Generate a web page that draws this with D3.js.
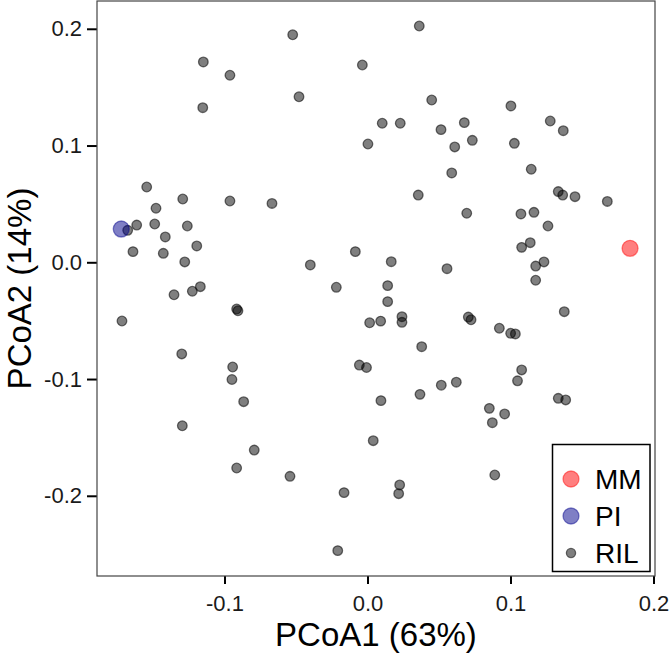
<!DOCTYPE html>
<html>
<head>
<meta charset="utf-8">
<script src="https://cdn.jsdelivr.net/npm/d3@7/dist/d3.min.js"></script>
<style>
  html, body { margin: 0; padding: 0; background: #fff; }
  svg { display: block; font-family: "Liberation Sans", Arial, Helvetica, sans-serif; }
</style>
</head>
<body>
<script>
// ---- data ----
const rilX = [
  -0.0523, -0.1148, -0.0962, -0.0036, -0.0479, -0.1152, 0.0103, 0.0003, -0.1544, -0.1292,
  -0.0962, -0.0668, 0.0362, 0.0449, 0.1003, 0.0229, 0.0677, 0.0514, 0.1278, 0.1369,
  0.0610, 0.0733, 0.1027, 0.0589, 0.1145, 0.0355, 0.1334, 0.1365, 0.1451, 0.1677,
  -0.1479, -0.1677, -0.1614, -0.1488, -0.1260, -0.1414, -0.1194, -0.1640, -0.1428, -0.1278,
  -0.0085, -0.0400, -0.1169, -0.1225, -0.1353, -0.0218, -0.0915, -0.0906, -0.1717, 0.0015,
  0.0092, -0.1299, -0.0943, -0.0948, -0.0057, -0.0007, 0.0694, 0.1073, 0.1164, 0.1262,
  0.1078, 0.1138, 0.0166, 0.0556, 0.1176, 0.1234, 0.1176, 0.0141, 0.0141, 0.1376,
  0.0241, 0.0241, 0.0705, 0.0724, 0.0922, 0.1001, 0.1034, 0.0379, 0.1078, 0.1049,
  0.0516, 0.0621, 0.0367, -0.0866, -0.1295, -0.0792, -0.0915, -0.0542, -0.0164, -0.0208,
  0.0040, 0.0094, 0.1334, 0.1386, 0.0852, 0.0959, 0.0873, 0.0890, 0.0225, 0.0218
];
const rilY = [
  0.1949, 0.1716, 0.1602, 0.1690, 0.1418, 0.1324, 0.1191, 0.1013, 0.0645, 0.0542,
  0.0525, 0.0504, 0.2024, 0.1390, 0.1339, 0.1191, 0.1196, 0.1136, 0.1210, 0.1127,
  0.0988, 0.1045, 0.1019, 0.0765, 0.0797, 0.0576, 0.0606, 0.0576, 0.0562, 0.0521,
  0.0463, 0.0274, 0.0319, 0.0328, 0.0311, 0.0217, 0.0140, 0.0091, 0.0077, 0.0003,
  0.0091, -0.0023, -0.0209, -0.0248, -0.0278, -0.0214, -0.0400, -0.0415, -0.0503, -0.0518,
  -0.0504, -0.0785, -0.0897, -0.1004, -0.0880, -0.0901, 0.0420, 0.0414, 0.0428, 0.0311,
  0.0128, 0.0168, 0.0005, -0.0055, -0.0032, 0.0003, -0.0154, -0.0200, -0.0337, -0.0423,
  -0.0466, -0.0514, -0.0469, -0.0492, -0.0565, -0.0608, -0.0614, -0.0723, -0.0922, -0.1015,
  -0.1053, -0.1027, -0.1131, -0.1194, -0.1400, -0.1608, -0.1762, -0.1833, -0.1973, -0.2470,
  -0.1528, -0.1185, -0.1165, -0.1179, -0.1251, -0.1299, -0.1374, -0.1822, -0.1907, -0.1982
];
const parentNames = ["MM", "PI"];
const parentX = [0.1836, -0.1722];
const parentY = [0.0120, 0.0285];
const legendLabels = ["MM", "PI", "RIL"];
const xTicks = [-0.1, 0.0, 0.1, 0.2];
const xTickLabels = ["-0.1", "0.0", "0.1", "0.2"];
const yTicks = [-0.2, -0.1, 0.0, 0.1, 0.2];
const yTickLabels = ["-0.2", "-0.1", "0.0", "0.1", "0.2"];
const xTitle = "PCoA1 (63%)";
const yTitle = "PCoA2 (14%)";

// ---- layout ----
const W = 669, H = 654;
const P = { left: 97, right: 655, top: 1, bottom: 576 };
const colors = { MM: "#ff0000", PI: "#00008b", RIL: "#000000" };

const x = d3.scaleLinear().domain([-0.18916, 0.20105]).range([P.left, P.right]);
const y = d3.scaleLinear().domain([-0.2687, 0.2238]).range([P.bottom, P.top]);

const svg = d3.select("body").append("svg").attr("width", W).attr("height", H);

// axes
const xAxis = d3.axisBottom(x).tickValues(xTicks)
  .tickFormat((d, i) => xTickLabels[i]).tickSize(8).tickPadding(11);
const yAxis = d3.axisLeft(y).tickValues(yTicks)
  .tickFormat((d, i) => yTickLabels[i]).tickSize(10).tickPadding(5);

const gx = svg.append("g").attr("transform", `translate(0,${P.bottom})`).call(xAxis);
const gy = svg.append("g").attr("transform", `translate(${P.left},0)`).call(yAxis);
[gx, gy].forEach(g => {
  g.select(".domain").remove();
  g.selectAll(".tick line").attr("stroke", "#000").attr("stroke-width", 2);
  g.selectAll(".tick text").attr("fill", "#1a1a1a").style("font-size", "22px")
    .style("font-family", '"Liberation Sans", Arial, sans-serif');
});

// panel border
svg.append("rect")
  .attr("x", P.left).attr("y", P.top)
  .attr("width", P.right - P.left).attr("height", P.bottom - P.top)
  .attr("fill", "none").attr("stroke", "#444").attr("stroke-width", 1.2);

// RIL points
const ril = rilX.map((v, i) => ({ x: v, y: rilY[i] }));
svg.append("g").selectAll("circle").data(ril).join("circle")
  .attr("cx", d => x(d.x)).attr("cy", d => y(d.y)).attr("r", 4.8)
  .attr("fill", colors.RIL).attr("fill-opacity", 0.5)
  .attr("stroke", colors.RIL).attr("stroke-opacity", 0.55).attr("stroke-width", 1.3);

// parents
const parents = parentNames.map((n, i) => ({ name: n, x: parentX[i], y: parentY[i] }));
svg.append("g").selectAll("circle").data(parents).join("circle")
  .attr("cx", d => x(d.x)).attr("cy", d => y(d.y)).attr("r", 8)
  .attr("fill", d => colors[d.name]).attr("fill-opacity", 0.5)
  .attr("stroke", d => colors[d.name]).attr("stroke-opacity", 0.45).attr("stroke-width", 1.3);

// axis titles
svg.append("text").attr("x", (P.left + P.right) / 2).attr("y", 646)
  .attr("text-anchor", "middle").style("font-size", "33px").attr("fill", "#000")
  .text(xTitle);
svg.append("text").attr("transform", `translate(31,${(P.top + P.bottom) / 2}) rotate(-90)`)
  .attr("text-anchor", "middle").style("font-size", "33px").attr("fill", "#000")
  .text(yTitle);

// legend
const lg = svg.append("g");
lg.append("rect").attr("x", 552.5).attr("y", 444.5).attr("width", 97.5).attr("height", 127)
  .attr("fill", "#fff").attr("stroke", "#000").attr("stroke-width", 1.5);
const legY = [479, 516, 553];
legendLabels.forEach((lab, i) => {
  const isRil = lab === "RIL";
  lg.append("circle").attr("cx", 571).attr("cy", legY[i]).attr("r", isRil ? 4.6 : 8)
    .attr("fill", colors[lab]).attr("fill-opacity", 0.5)
    .attr("stroke", colors[lab]).attr("stroke-opacity", isRil ? 0.55 : 0.45).attr("stroke-width", 1.3);
  lg.append("text").attr("x", 595).attr("y", legY[i] + 10)
    .style("font-size", "28px").attr("fill", "#000").text(lab);
});
</script>
</body>
</html>
